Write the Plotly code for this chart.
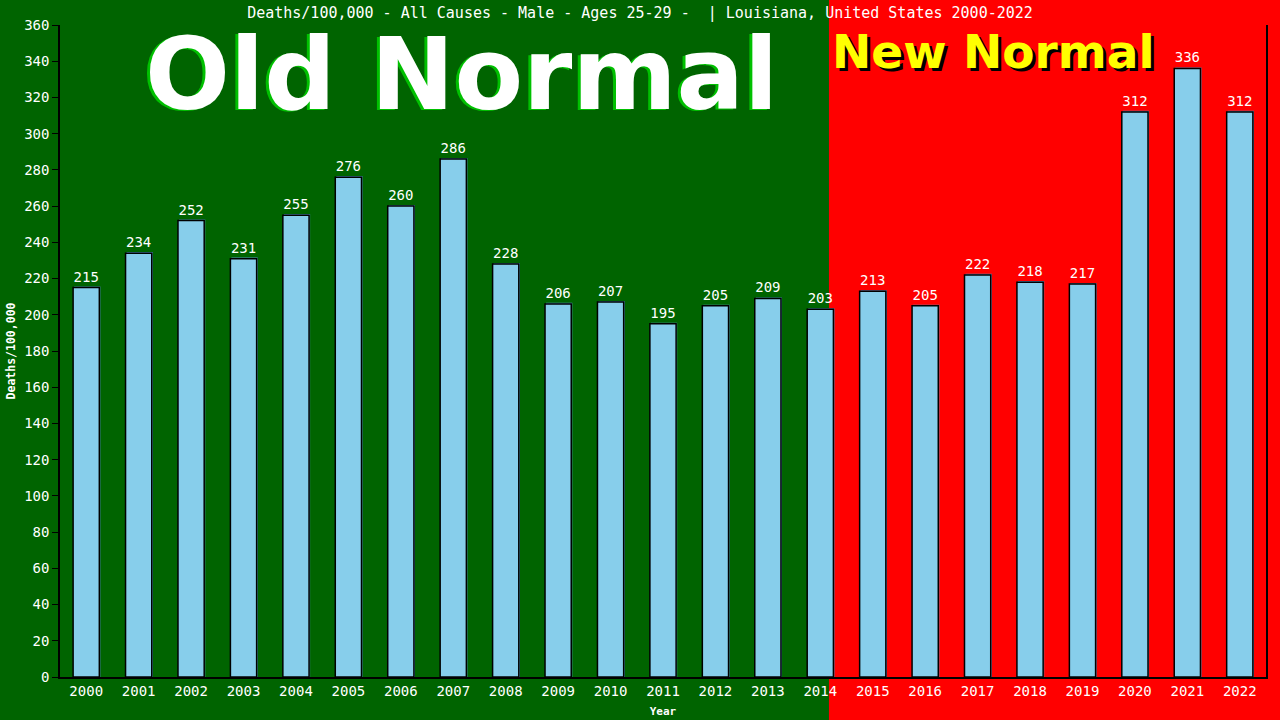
import plotly.graph_objects as go

years = [str(y) for y in range(2000, 2023)]
deaths = [215, 234, 252, 231, 255, 276, 260, 286, 228, 206, 207, 195,
          205, 209, 203, 213, 205, 222, 218, 217, 312, 336, 312]
y_ticks = list(range(0, 361, 20))

title_text = "Deaths/100,000 - All Causes - Male - Ages 25-29 -  | Louisiana, United States 2000-2022"

mono = "DejaVu Sans Mono"
big_font = "DejaVu Sans"

fig = go.Figure()

# thin steelblue "shadow" behind every bar
fig.add_trace(go.Bar(
    x=years,
    y=[v + 0.6 for v in deaths],
    width=0.5,
    offset=-0.23,
    marker=dict(color='#4f8fc0', line=dict(width=0)),
    hoverinfo='skip',
    showlegend=False
))
fig.add_trace(go.Bar(
    x=years,
    y=deaths,
    width=0.5,
    offset=-0.25,
    marker=dict(color='#87CEEB', line=dict(color='black', width=1.5)),
    text=[str(v) for v in deaths],
    textposition='outside',
    textfont=dict(family=mono, size=14, color='white'),
    cliponaxis=False,
    showlegend=False
))

# green left / red right backgrounds
fig.add_shape(type='rect', xref='paper', yref='paper',
              x0=-0.1, x1=0.6376, y0=-0.1, y1=1.1,
              fillcolor='#006400', line=dict(width=0), layer='below')
fig.add_shape(type='rect', xref='paper', yref='paper',
              x0=0.6376, x1=1.1, y0=-0.1, y1=1.1,
              fillcolor='#FF0000', line=dict(width=0), layer='below')

fig.add_annotation(text="<b>Old Normal</b>", xref='paper', yref='paper',
                   x=0.333, y=0.924, xanchor='center', yanchor='middle',
                   xshift=-3, yshift=-1, showarrow=False,
                   font=dict(family=big_font, size=100, color='#00c000'))
fig.add_annotation(text="<b>Old Normal</b>", xref='paper', yref='paper',
                   x=0.333, y=0.924, xanchor='center', yanchor='middle',
                   showarrow=False,
                   font=dict(family=big_font, size=100, color='white'))
fig.add_annotation(text="<b>New Normal</b>", xref='paper', yref='paper',
                   x=0.774, y=0.96, xanchor='center', yanchor='middle',
                   xshift=3, yshift=-3, showarrow=False,
                   font=dict(family=big_font, size=47, color='black'))
fig.add_annotation(text="<b>New Normal</b>", xref='paper', yref='paper',
                   x=0.774, y=0.96, xanchor='center', yanchor='middle',
                   showarrow=False,
                   font=dict(family=big_font, size=47, color='#FFFF00'))

fig.update_layout(
    width=1280,
    height=720,
    barmode='overlay',
    paper_bgcolor='#006400',
    plot_bgcolor='rgba(0,0,0,0)',
    margin=dict(l=60, r=14, t=25, b=43),
    font=dict(family=mono, size=13, color='white'),
    title=dict(text=title_text, x=0.5, xanchor='center', y=0.982, yanchor='middle',
               font=dict(family=mono, size=15, color='white')),
)
fig.update_xaxes(
    type='category',
    range=[-0.5, 22.5],
    automargin=False,
    showgrid=False,
    showline=True,
    linecolor='black',
    linewidth=1.5,
    ticks='',
    tickfont=dict(family=mono, size=14, color='white'),
    title=dict(text='<b>Year</b>', standoff=10,
               font=dict(family=mono, size=11, color='white')),
)
fig.update_yaxes(
    range=[0, 360],
    tickvals=y_ticks,
    automargin=False,
    showgrid=False,
    zeroline=False,
    showline=True,
    mirror=True,
    linecolor='black',
    linewidth=1.5,
    ticks='outside',
    ticklen=6,
    tickcolor='black',
    tickfont=dict(family=mono, size=14, color='white'),
    title=dict(text='<b>Deaths/100,000</b>', standoff=6,
               font=dict(family=mono, size=11.5, color='white')),
)

fig.write_html("out.html", config={'displayModeBar': False},
               post_script="document.body.style.margin='0';")
